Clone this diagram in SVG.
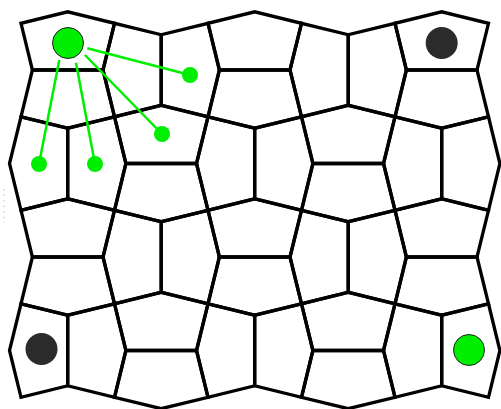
<svg xmlns="http://www.w3.org/2000/svg" width="501" height="409" viewBox="0 0 501 409">
<style>
.t{fill:none;stroke:#000;stroke-width:3.3;stroke-linejoin:miter}
.c{stroke:#00ee00;stroke-width:2.5;fill:none}
.g{fill:#00ee00}
.gb{fill:#00ee00;stroke:#222;stroke-width:1}
.d{fill:#2b2b2b}
</style>
<rect width="501" height="409" fill="#fff"/>
<g id="tiling">
<polygon class="t" points="32.4,70 103,70 114.5,23.3 67.7,11.8 21,23.3"/>
<polygon class="t" points="32.4,70 103,70 114.5,116.8 67.7,128.2 21,116.8"/>
<polygon class="t" points="219.4,70 290,70 301.5,23.3 254.7,11.8 208,23.3"/>
<polygon class="t" points="219.4,70 290,70 301.5,116.8 254.7,128.2 208,116.8"/>
<polygon class="t" points="406.4,70 477,70 488.5,23.3 441.7,11.8 395,23.3"/>
<polygon class="t" points="406.4,70 477,70 488.5,116.8 441.7,128.2 395,116.8"/>
<polygon class="t" points="125.9,163.5 196.5,163.5 208,116.8 161.2,105.3 114.5,116.8"/>
<polygon class="t" points="125.9,163.5 196.5,163.5 208,210.3 161.2,221.7 114.5,210.3"/>
<polygon class="t" points="312.9,163.5 383.5,163.5 395,116.8 348.2,105.3 301.5,116.8"/>
<polygon class="t" points="312.9,163.5 383.5,163.5 395,210.3 348.2,221.7 301.5,210.3"/>
<polygon class="t" points="32.4,257 103,257 114.5,210.3 67.7,198.8 21,210.3"/>
<polygon class="t" points="32.4,257 103,257 114.5,303.8 67.7,315.2 21,303.8"/>
<polygon class="t" points="219.4,257 290,257 301.5,210.3 254.7,198.8 208,210.3"/>
<polygon class="t" points="219.4,257 290,257 301.5,303.8 254.7,315.2 208,303.8"/>
<polygon class="t" points="406.4,257 477,257 488.5,210.3 441.7,198.8 395,210.3"/>
<polygon class="t" points="406.4,257 477,257 488.5,303.8 441.7,315.2 395,303.8"/>
<polygon class="t" points="125.9,350.5 196.5,350.5 208,303.8 161.2,292.3 114.5,303.8"/>
<polygon class="t" points="125.9,350.5 196.5,350.5 208,397.3 161.2,408.7 114.5,397.3"/>
<polygon class="t" points="312.9,350.5 383.5,350.5 395,303.8 348.2,292.3 301.5,303.8"/>
<polygon class="t" points="312.9,350.5 383.5,350.5 395,397.3 348.2,408.7 301.5,397.3"/>
<polygon class="t" points="161.2,34.7 161.2,105.3 114.5,116.8 103,70 114.5,23.3"/>
<polygon class="t" points="161.2,34.7 161.2,105.3 208,116.8 219.4,70 208,23.3"/>
<polygon class="t" points="348.2,34.7 348.2,105.3 301.5,116.8 290,70 301.5,23.3"/>
<polygon class="t" points="348.2,34.7 348.2,105.3 395,116.8 406.4,70 395,23.3"/>
<polygon class="t" points="67.7,128.2 67.7,198.8 21,210.3 9.5,163.5 21,116.8"/>
<polygon class="t" points="67.7,128.2 67.7,198.8 114.5,210.3 125.9,163.5 114.5,116.8"/>
<polygon class="t" points="254.7,128.2 254.7,198.8 208,210.3 196.5,163.5 208,116.8"/>
<polygon class="t" points="254.7,128.2 254.7,198.8 301.5,210.3 312.9,163.5 301.5,116.8"/>
<polygon class="t" points="441.7,128.2 441.7,198.8 395,210.3 383.5,163.5 395,116.8"/>
<polygon class="t" points="441.7,128.2 441.7,198.8 488.5,210.3 499.9,163.5 488.5,116.8"/>
<polygon class="t" points="161.2,221.7 161.2,292.3 114.5,303.8 103,257 114.5,210.3"/>
<polygon class="t" points="161.2,221.7 161.2,292.3 208,303.8 219.4,257 208,210.3"/>
<polygon class="t" points="348.2,221.7 348.2,292.3 301.5,303.8 290,257 301.5,210.3"/>
<polygon class="t" points="348.2,221.7 348.2,292.3 395,303.8 406.4,257 395,210.3"/>
<polygon class="t" points="67.7,315.2 67.7,385.8 21,397.3 9.5,350.5 21,303.8"/>
<polygon class="t" points="67.7,315.2 67.7,385.8 114.5,397.3 125.9,350.5 114.5,303.8"/>
<polygon class="t" points="254.7,315.2 254.7,385.8 208,397.3 196.5,350.5 208,303.8"/>
<polygon class="t" points="254.7,315.2 254.7,385.8 301.5,397.3 312.9,350.5 301.5,303.8"/>
<polygon class="t" points="441.7,315.2 441.7,385.8 395,397.3 383.5,350.5 395,303.8"/>
<polygon class="t" points="441.7,315.2 441.7,385.8 488.5,397.3 499.9,350.5 488.5,303.8"/>
</g>
<line x1="4" y1="189" x2="4" y2="223" stroke="#bbb" stroke-width="1" stroke-dasharray="1.5,4"/>
<g id="connectors">
<line class="c" x1="87.3" y1="48.3" x2="190" y2="75"/>
<line class="c" x1="85" y1="55" x2="162" y2="134"/>
<line class="c" x1="76" y1="62.7" x2="95" y2="164"/>
<line class="c" x1="59.3" y1="60" x2="39" y2="164"/>
</g>
<g id="node-start"><circle class="gb" cx="68" cy="43" r="15.5"/></g>
<g id="node-a"><circle class="g" cx="190" cy="75" r="8"/></g>
<g id="node-b"><circle class="g" cx="162" cy="134" r="8"/></g>
<g id="node-c"><circle class="g" cx="95" cy="164" r="8"/></g>
<g id="node-d"><circle class="g" cx="39" cy="164" r="8"/></g>
<g id="node-tr"><circle class="d" cx="441.7" cy="43" r="16"/></g>
<g id="node-bl"><circle class="d" cx="41.5" cy="349" r="16"/></g>
<g id="node-br"><circle class="gb" cx="469" cy="350" r="15.5"/></g>
</svg>
